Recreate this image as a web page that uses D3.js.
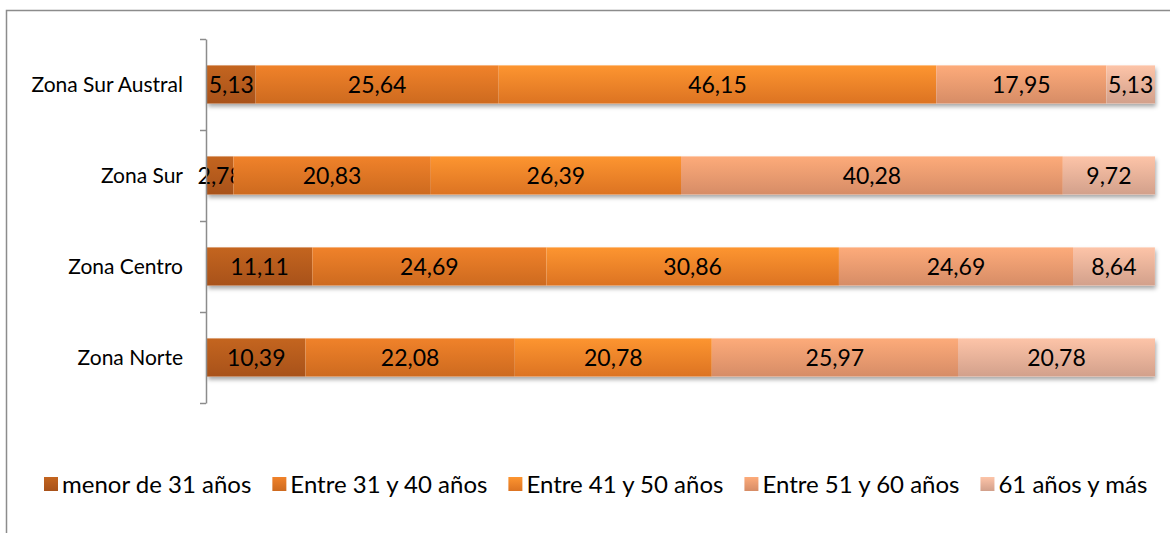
<!DOCTYPE html>
<html>
<head>
<meta charset="utf-8">
<script src="https://cdn.jsdelivr.net/npm/d3@7"></script>
<style>
  body { margin: 0; background: #fff; }
  svg { display: block; font-family: Lato, "Open Sans", sans-serif; }
</style>
</head>
<body>
<svg id="chart" width="1170" height="533"></svg>
<script>
var zonas = ["Zona Sur Austral", "Zona Sur", "Zona Centro", "Zona Norte"];
var series = ["menor de 31 años", "Entre 31 y 40 años", "Entre 41 y 50 años", "Entre 51 y 60 años", "61 años y más"];
var menor31 = [5.13, 2.78, 11.11, 10.39];
var entre31y40 = [25.64, 20.83, 24.69, 22.08];
var entre41y50 = [46.15, 26.39, 30.86, 20.78];
var entre51y60 = [17.95, 40.28, 24.69, 25.97];
var mas61 = [5.13, 9.72, 8.64, 20.78];

var valores = [menor31, entre31y40, entre41y50, entre51y60, mas61];
var gradTop = ["#c4651f", "#f0822a", "#fd9530", "#fdab7a", "#fdc4a8"];
var gradBot = ["#a8521a", "#cd6a1f", "#dc7322", "#d68c66", "#d2a08b"];

var svg = d3.select("#chart");

// frame
svg.append("path")
    .attr("d", "M6.5,533 V10.5 H1170")
    .attr("fill", "none")
    .attr("stroke", "#8c8c8c")
    .attr("stroke-width", 1.5);

var defs = svg.append("defs");
series.forEach(function (s, i) {
  var g = defs.append("linearGradient")
      .attr("id", "g" + i)
      .attr("x1", 0).attr("y1", 0).attr("x2", 0).attr("y2", 1);
  g.append("stop").attr("offset", "0%").attr("stop-color", gradTop[i]);
  g.append("stop").attr("offset", "100%").attr("stop-color", gradBot[i]);
});
var f = defs.append("filter").attr("id", "shadow")
    .attr("x", "-5%").attr("y", "-30%").attr("width", "110%").attr("height", "180%");
f.append("feDropShadow")
    .attr("dx", 1).attr("dy", 3).attr("stdDeviation", 2)
    .attr("flood-color", "#000").attr("flood-opacity", 0.35);

var x = d3.scaleLinear().domain([0, 100]).range([207, 1155]);
var y = d3.scaleBand().domain(zonas).range([39, 403])
    .paddingInner(0.58).paddingOuter(0.29);

// stacked data
var rows = zonas.map(function (z, j) {
  var o = { zona: z };
  series.forEach(function (s, i) { o[s] = valores[i][j]; });
  return o;
});
var stacked = d3.stack().keys(series)(rows);

// shadow row under each bar
svg.append("g").selectAll("rect")
    .data(zonas)
  .enter().append("rect")
    .attr("x", x(0))
    .attr("y", function (d) { return y(d); })
    .attr("width", function (d, j) {
      return x(d3.sum(valores, function (v) { return v[j]; })) - x(0);
    })
    .attr("height", y.bandwidth())
    .attr("fill", "#fff")
    .attr("filter", "url(#shadow)");

var layer = svg.append("g").selectAll("g")
    .data(stacked)
  .enter().append("g")
    .attr("fill", function (d, i) { return "url(#g" + i + ")"; });

layer.selectAll("rect")
    .data(function (d) { return d; })
  .enter().append("rect")
    .attr("x", function (d) { return x(d[0]); })
    .attr("y", function (d) { return y(d.data.zona); })
    .attr("width", function (d) { return x(d[1]) - x(d[0]); })
    .attr("height", y.bandwidth());

layer.selectAll("text")
    .data(function (d) { return d; })
  .enter().append("text")
    .attr("x", function (d) { return (x(d[0]) + x(d[1])) / 2; })
    .attr("y", function (d) { return y(d.data.zona) + y.bandwidth() / 2; })
    .attr("dy", "0.36em")
    .attr("text-anchor", "middle")
    .attr("fill", "#000")
    .style("font-size", "23px")
    .text(function (d) { return (d[1] - d[0]).toFixed(2).replace(".", ","); });

// axis with ticks between categories
var tickScale = d3.scaleLinear().domain([0, zonas.length]).range([39, 403]);
var axis = svg.append("g")
    .attr("transform", "translate(206,0)")
    .call(d3.axisLeft(tickScale).tickValues(d3.range(zonas.length + 1))
      .tickFormat("").tickSizeInner(6).tickSizeOuter(0));
axis.selectAll("path, line").attr("stroke", "#8c8c8c").attr("stroke-width", 1.5);

svg.append("g").selectAll("text")
    .data(zonas)
  .enter().append("text")
    .attr("x", 183)
    .attr("y", function (d) { return y(d) + y.bandwidth() / 2; })
    .attr("dy", "0.36em")
    .attr("text-anchor", "end")
    .style("font-size", "21px")
    .text(function (d) { return d; });

// legend
var legend = svg.append("g");
var lx = 44;
series.forEach(function (s, i) {
  var item = legend.append("g").attr("transform", "translate(" + lx + ",0)");
  item.append("rect")
      .attr("x", 0).attr("y", 477).attr("width", 14).attr("height", 14)
      .attr("fill", "url(#g" + i + ")");
  var t = item.append("text")
      .attr("x", 18).attr("y", 493)
      .style("font-size", "24px")
      .text(s);
  lx += 18 + t.node().getComputedTextLength() + 21;
});
</script>
</body>
</html>
